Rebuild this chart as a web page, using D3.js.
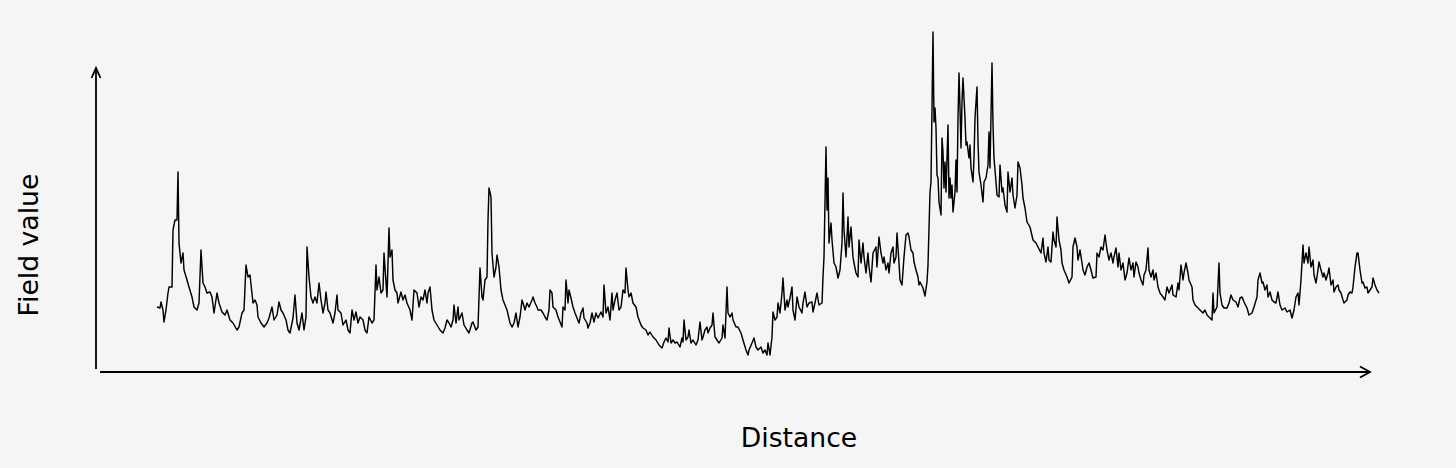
<!DOCTYPE html>
<html>
<head>
<meta charset="utf-8">
<script src="https://cdn.jsdelivr.net/npm/d3@7"></script>
<style>
  body { margin: 0; background: #f5f5f5; }
  svg { display: block; }
</style>
</head>
<body>
<div id="chart"></div>
<script>
// distance along the profile (arbitrary units)
const distance = [
  0, 3, 4, 6, 7, 9, 11, 12, 15, 16,
  18, 20, 21, 22, 24, 26, 27, 30, 32, 35,
  37, 40, 42, 44, 46, 48, 50, 53, 55, 57,
  60, 62, 65, 68, 70, 73, 76, 80, 82, 85,
  87, 89, 91, 93, 96, 98, 100, 101, 104, 107,
  110, 112, 115, 117, 120, 122, 124, 126, 129, 131,
  133, 136, 138, 140, 142, 145, 147, 149, 150, 152,
  154, 156, 158, 160, 162, 164, 166, 168, 169, 171,
  173, 176, 178, 180, 181, 184, 186, 189, 191, 193,
  195, 197, 199, 201, 203, 206, 208, 210, 212, 215,
  217, 219, 220, 222, 224, 226, 227, 230, 232, 233,
  235, 236, 238, 240, 241, 244, 246, 248, 250, 253,
  255, 257, 260, 262, 264, 266, 268, 270, 271, 273,
  275, 277, 280, 283, 286, 288, 290, 292, 294, 296,
  297, 299, 301, 302, 305, 307, 310, 312, 315, 316,
  319, 321, 323, 325, 326, 328, 330, 331, 332, 334,
  335, 337, 339, 340, 342, 344, 346, 348, 350, 353,
  355, 357, 359, 361, 363, 365, 366, 368, 370, 372,
  375, 376, 378, 380, 381, 384, 386, 388, 390, 392,
  393, 395, 396, 399, 401, 405, 406, 408, 409, 411,
  412, 414, 416, 418, 420, 422, 424, 426, 427, 430,
  431, 433, 435, 437, 439, 441, 444, 446, 447, 449,
  451, 453, 455, 456, 458, 460, 462, 464, 466, 468,
  469, 471, 472, 474, 476, 479, 481, 484, 486, 489,
  491, 493, 496, 499, 502, 505, 507, 509, 511, 512,
  514, 516, 518, 520, 523, 525, 526, 527, 529, 531,
  532, 534, 536, 539, 541, 543, 545, 546, 548, 550,
  551, 553, 555, 556, 558, 560, 562, 565, 566, 568,
  570, 571, 573, 575, 576, 579, 581, 584, 586, 589,
  591, 592, 595, 597, 599, 601, 604, 606, 608, 610,
  611, 613, 615, 616, 618, 620,
  621, 623, 625, 626, 628, 630, 631, 633, 635, 636,
  638, 640, 642, 645, 646, 648, 650, 652, 655, 656,
  658, 660, 662, 665, 666, 667, 669, 670, 671, 672,
  674, 675, 677, 679, 681, 683, 685, 686, 687, 689,
  691, 692, 694, 696, 697, 699, 701, 702, 704, 706,
  707, 709, 711, 712, 714, 716, 719, 720, 722, 724,
  726, 727, 729, 731, 732, 734, 736, 737, 739, 740,
  742, 743, 745, 747, 749, 751, 752, 754, 756, 757,
  759, 761, 762,
  763, 766, 768, 770, 771, 773, 774, 776, 777, 778,
  779, 780, 781, 782, 784, 785, 786, 787, 788, 789,
  791, 792, 793, 794, 795, 796, 798, 799, 800, 801,
  802, 803, 804, 805, 806, 808, 809, 810, 812, 813,
  814, 816, 817, 818, 820, 821, 822, 824, 826, 827,
  829, 831, 832, 833, 835, 836, 837, 839, 840, 842,
  843, 845, 846, 848, 850, 851, 853, 855, 856, 858,
  860, 861, 863, 865, 866, 868, 870,
  873, 876, 879, 881, 884, 886, 887, 889, 891, 892,
  894, 896, 897, 899, 900, 902, 904, 905, 907, 910,
  912, 915, 916, 918, 920, 921, 923, 925, 926, 928,
  930, 932, 934, 936, 939, 940, 942, 944, 946, 948,
  950, 952, 954, 956, 957, 959, 961, 962, 964, 966,
  968, 970, 972, 974, 976, 977, 979, 981, 982, 984,
  986, 987, 989, 991, 992, 994, 996, 997, 999, 1001,
  1003, 1006, 1008, 1010, 1012, 1015, 1016, 1019, 1021, 1022,
  1024, 1026, 1027, 1029, 1031, 1032, 1035, 1036, 1038, 1040,
  1043, 1046, 1048, 1050, 1053, 1055, 1056, 1057, 1060, 1062,
  1063, 1065, 1067, 1070, 1072, 1074, 1076, 1079, 1081, 1083,
  1085, 1087, 1090, 1092, 1095, 1097, 1100, 1101, 1103, 1105,
  1106, 1108, 1110, 1111, 1113, 1115, 1117, 1119, 1121, 1123,
  1125, 1128, 1130, 1133, 1135, 1137, 1139, 1141, 1142, 1144,
  1146, 1147, 1149, 1151, 1152, 1154, 1156, 1157, 1159, 1161,
  1162, 1164, 1166, 1167, 1169, 1171, 1172, 1174, 1176, 1177,
  1179, 1181, 1182, 1184, 1186, 1187, 1190, 1191, 1193, 1195,
  1196, 1198, 1200, 1201, 1203, 1205, 1206, 1208, 1210, 1211,
  1213, 1215, 1216, 1218, 1220, 1222
];

// field value at each distance
const fieldValue = [
  65, 64, 70, 62, 50, 62, 79, 85, 85, 142,
  152, 152, 200, 129, 109, 119, 102, 92, 85, 75,
  65, 62, 69, 122, 89, 85, 79, 80, 75, 59,
  79, 69, 60, 57, 62, 52, 49, 42, 45, 59,
  62, 107, 95, 97, 69, 72, 67, 55, 49, 45,
  49, 54, 65, 52, 57, 70, 62, 59, 52, 42,
  39, 54, 77, 49, 42, 59, 42, 55, 125, 95,
  75, 69, 75, 69, 89, 72, 59, 69, 80, 62,
  59, 49, 59, 77, 62, 59, 47, 52, 42, 39,
  62, 52, 60, 49, 55, 52, 42, 39, 55, 49,
  52, 107, 82, 95, 79, 82, 119, 75, 144, 115,
  122, 92, 82, 79, 69, 80, 72, 77, 69, 62,
  52, 82, 79, 65, 75, 72, 82, 69, 79, 85,
  62, 52, 47, 42, 39, 44, 52, 49, 45, 52,
  67, 49, 65, 52, 59, 47, 42, 39, 49, 50,
  42, 45, 104, 75, 72, 92, 95, 152, 184, 175,
  119, 95, 105, 117, 105, 82, 72, 67, 62, 49,
  45, 49, 59, 45, 55, 72, 69, 62, 69, 65,
  72, 75, 69, 65, 62, 62, 59, 55, 52, 62,
  82, 79, 65, 62, 55, 45, 65, 62, 92, 69,
  82, 74, 65, 59, 54, 49, 59, 64, 54, 49,
  44, 49, 59, 50, 59, 54, 60, 55, 87, 59,
  65, 52, 79, 62, 72, 79, 62, 65, 82, 79,
  104, 82, 75, 79, 69, 65, 55, 47, 44, 42,
  37, 40, 35, 32, 27, 24, 30, 34, 30, 44,
  29, 32, 29, 30, 25, 34, 30, 52, 32, 35,
  42, 29, 32, 27, 32, 50, 32, 35, 42, 45,
  39, 44, 47, 59, 35, 32, 29, 34, 47, 34,
  85, 59, 55, 59, 52, 45, 45, 39, 32, 22,
  17, 22, 29, 34, 25, 22, 25, 19, 22, 17,
  29, 17, 35, 60, 52, 55,
  69, 59, 79, 94, 62, 72, 65, 74, 85, 62,
  52, 75, 65, 59, 69, 80, 65, 69, 70, 60,
  69, 79, 67, 69, 95, 115, 225, 162, 194, 129,
  149, 132, 109, 105, 94, 102, 129, 179, 142, 115,
  155, 125, 145, 115, 109, 99, 95, 132, 109, 129,
  115, 99, 119, 105, 90, 119, 125, 105, 135, 119,
  109, 115, 102, 109, 99, 119, 125, 109, 115, 139,
  109, 92, 87, 115, 137, 139, 135, 122, 119, 110,
  102, 95, 87,
  90, 84, 76, 90, 107, 180, 190, 340, 250, 264,
  244, 197, 194, 170, 157, 234, 220, 184, 210, 180,
  247, 174, 194, 174, 187, 160, 180, 212, 180, 254,
  299, 264, 224, 270, 294, 254, 227, 230, 214, 227,
  204, 190, 214, 254, 285, 230, 200, 187, 170, 190,
  194, 207, 240, 204, 309, 247, 214, 190, 177, 175,
  207, 180, 184, 167, 160, 200, 180, 194, 177, 164,
  177, 210, 204, 187, 174, 164, 150,
  145, 132, 129, 125, 119, 134, 119, 110, 125, 112,
  110, 140, 132, 125, 155, 132, 122, 109, 102, 95,
  89, 95, 125, 134, 125, 112, 122, 109, 102, 97,
  105, 109, 102, 94, 95, 119, 115, 125, 122, 137,
  122, 112, 119, 109, 115, 124, 105, 119, 102, 109,
  92, 99, 114, 102, 109, 95, 110, 105, 99, 92,
  87, 97, 102, 124, 102, 95, 102, 92, 99, 85,
  79, 75, 72, 85, 79, 87, 77, 75, 89, 82,
  107, 92, 99, 109, 99, 92, 85, 72, 67, 65,
  62, 59, 62, 57, 54, 52, 79, 59, 65, 109,
  79, 67, 64, 64, 69, 77, 72, 70, 65, 74,
  75, 70, 64, 57, 59, 65, 75, 92, 99, 89,
  90, 82, 87, 75, 80, 72, 70, 69, 80, 67,
  62, 64, 60, 62, 54, 62, 75, 79, 67, 92,
  127, 109, 119, 109, 125, 105, 112, 97, 89, 102,
  110, 102, 95, 99, 92, 99, 104, 87, 92, 80,
  85, 87, 82, 79, 72, 69, 72, 77, 80, 79,
  85, 105, 119, 119, 102, 89, 90, 84, 85, 79,
  82, 85, 94, 87, 82, 79
];

const axisLabels = { x: "Distance", y: "Field value" };

const W = 1456, H = 468;
const font = "'DejaVu Sans', sans-serif";

const svg = d3.select("#chart")
  .append("svg")
  .attr("width", W)
  .attr("height", H);

svg.append("rect")
  .attr("width", W)
  .attr("height", H)
  .attr("fill", "#f5f5f5");

const x = d3.scaleLinear().domain([0, 1222]).range([157, 1379]);
const y = d3.scaleLinear().domain([0, 340]).range([372, 32]);

const data = distance.map((d, i) => ({ d: d, v: fieldValue[i] }));

const line = d3.line()
  .x((p) => x(p.d))
  .y((p) => y(p.v));

svg.append("path")
  .datum(data)
  .attr("d", line)
  .attr("fill", "none")
  .attr("stroke", "#000")
  .attr("stroke-width", 1.45)
  .attr("stroke-linejoin", "round");

// axis arrows (no ticks)
const axisG = svg.append("g")
  .attr("stroke", "#000")
  .attr("stroke-width", 1.8)
  .attr("fill", "none");

axisG.append("line")
  .attr("x1", 96).attr("y1", 369)
  .attr("x2", 96).attr("y2", 68);
axisG.append("path")
  .attr("d", "M91.5,78 L96,68 L100.5,78");

axisG.append("line")
  .attr("x1", 100).attr("y1", 372)
  .attr("x2", 1370).attr("y2", 372);
axisG.append("path")
  .attr("d", "M1360,366.5 L1370,372 L1360,377.5");

svg.append("text")
  .attr("x", 799)
  .attr("y", 447)
  .attr("text-anchor", "middle")
  .style("font-family", font)
  .style("font-size", "26.67px")
  .text(axisLabels.x);

svg.append("text")
  .attr("transform", "translate(38,245) rotate(-90)")
  .attr("text-anchor", "middle")
  .style("font-family", font)
  .style("font-size", "26.67px")
  .text(axisLabels.y);
</script>
</body>
</html>
